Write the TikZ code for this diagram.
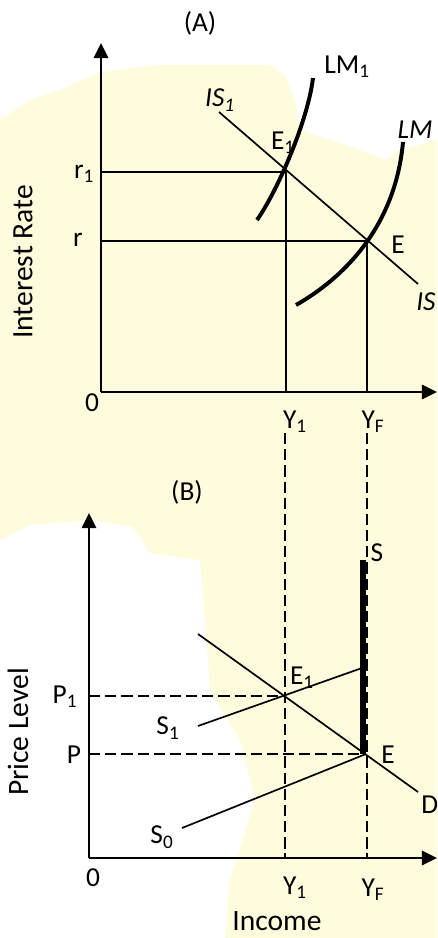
\documentclass[tikz,border=0pt]{standalone}
\usepackage{fontspec}
\setmainfont{Carlito}
\usetikzlibrary{arrows.meta, positioning, calc}
\definecolor{paper}{RGB}{255,252,222}

\begin{document}
\begin{tikzpicture}[x=0.025cm, y=-0.025cm, font=\fontsize{19.5}{22}\selectfont,
    axis/.style={line width=1.7pt, -{Triangle[length=0.38cm, width=0.36cm]}},
    guide/.style={line width=1.2pt},
    curve/.style={line width=2.8pt},
    dashline/.style={line width=1.1pt, dash pattern=on 8pt off 3.5pt},
    vsupply/.style={line width=3.6pt},
    axtitle/.style={font=\fontsize{21}{24}\selectfont}]
    \useasboundingbox (0,0) rectangle (437,938);
    % faint background
    \fill[paper] (0,120) -- (30,100) -- (60,90) -- (100,72) -- (160,65) -- (270,65) -- (285,75) -- (295,100)
        -- (300,130) -- (330,140) -- (360,150) -- (385,160) -- (400,150) -- (437,140) -- (437,938)
        -- (225,938) -- (230,880) -- (255,800) -- (240,740) -- (210,690) -- (205,620) -- (200,560)
        -- (150,553) -- (133,527) -- (90,520) -- (30,525) -- (0,540) -- cycle;

    % (A) IS-LM
    \node (titleA) at (200,23) {(A)};
    \coordinate (oA) at (101,392);
    \coordinate (yA) at (101,43);
    \coordinate (xA) at (437,392);
    \draw[axis] (oA) -- (yA);
    \draw[axis] (oA) -- (xA);
    \node[axtitle, rotate=90] (ylabA) at (23,262) {Interest Rate};
    \node (zeroA) at (92,403) {0};

    \coordinate (E1a) at (286,172);
    \coordinate (Ea) at (367,241);
    \coordinate (r1a) at (101,172);
    \coordinate (ra) at (101,241);
    \coordinate (Y1a) at (286,392);
    \coordinate (YFa) at (367,392);
    \draw[guide] (r1a) -- (E1a) -- (Y1a);
    \draw[guide] (ra) -- (Ea) -- (YFa);
    \node (r1lab) at (84,174) {r\textsubscript{1}};
    \node (rlab) at (78,240) {r};

    \coordinate (ISs) at (219,112);
    \coordinate (ISe) at (418,284);
    \draw[guide] (ISs) -- (ISe);
    \node (IS1lab) at (220,100) {\textit{IS\textsubscript{1}}};
    \node[anchor=west, inner sep=0pt] (ISlab) at (416,302) {\textit{IS}};

    \draw[curve] (257,220) .. controls (278,190) and (308,120) .. (313,78);
    \draw[curve] (296,305) .. controls (340,280) and (395,230) .. (403,142);
    \node (LM1lab) at (347,67) {LM\textsubscript{1}};
    \node (LMlab) at (415,130) {\textit{LM}};
    \node (E1alab) at (283,143) {E\textsubscript{1}};
    \node (Ealab) at (398,245) {E};

    \node (Y1alab) at (295,422) {Y\textsubscript{1}};
    \node (YFalab) at (373,422) {Y\textsubscript{F}};

    % (B) price level
    \node (titleB) at (187,492) {(B)};
    \coordinate (oB) at (89,858);
    \coordinate (yB) at (89,513);
    \coordinate (xB) at (437,858);
    \draw[axis] (oB) -- (yB);
    \draw[axis] (oB) -- (xB);
    \node[axtitle, rotate=90] (ylabB) at (18,732) {Price Level};
    \node (zeroB) at (93,878) {0};

    \coordinate (Y1top) at (285,433);
    \coordinate (YFtop) at (367,433);
    \coordinate (Y1b) at (285,858);
    \coordinate (YFb) at (367,858);
    \draw[dashline] (Y1top) -- (Y1b);
    \draw[dashline] (YFtop) -- (YFb);

    \coordinate (E1b) at (285,696);
    \coordinate (Eb) at (366,754);
    \coordinate (P1b) at (89,696);
    \coordinate (Pb) at (89,754);
    \draw[dashline] (P1b) -- (E1b);
    \draw[dashline] (Pb) -- (Eb);
    \node (P1lab) at (65,697) {P\textsubscript{1}};
    \node (Plab) at (74,755) {P};

    \coordinate (Ds) at (198,634);
    \coordinate (De) at (418,792);
    \draw[guide] (Ds) -- (De);
    \node[anchor=west, inner sep=0pt] (Dlab) at (421,805) {D};

    \coordinate (S1s) at (198,726);
    \coordinate (S1e) at (362,668);
    \draw[guide] (S1s) -- (S1e);
    \node (S1lab) at (168,728) {S\textsubscript{1}};

    \coordinate (S0s) at (182,828);
    \draw[guide] (S0s) -- (Eb);
    \node (S0lab) at (162,837) {S\textsubscript{0}};

    \coordinate (Stop) at (363,560);
    \coordinate (Sbot) at (363,754);
    \draw[vsupply] (Stop) -- (Sbot);
    \node (Slab) at (377,553) {S};

    \node (E1blab) at (302,678) {E\textsubscript{1}};
    \node (Eblab) at (388,755) {E};

    \node (Y1blab) at (295,888) {Y\textsubscript{1}};
    \node (YFblab) at (373,890) {Y\textsubscript{F}};
    \node[axtitle] (xlabB) at (277,921) {Income};
\end{tikzpicture}
\end{document}
